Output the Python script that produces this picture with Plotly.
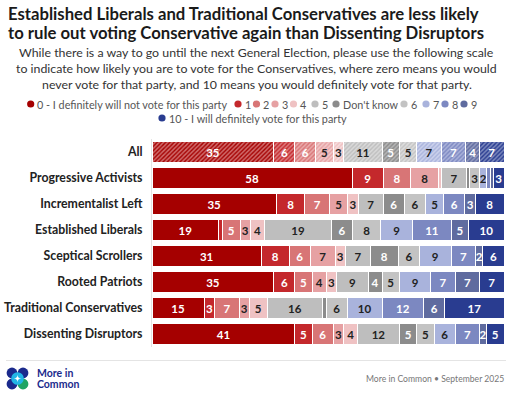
import plotly.graph_objects as go

W, H = 512, 398

segments = ["All", "Progressive Activists", "Incrementalist Left", "Established Liberals",
            "Sceptical Scrollers", "Rooted Patriots", "Traditional Conservatives",
            "Dissenting Disruptors"]

categories = ["0 - I definitely will not vote for this party", "1", "2", "3", "4", "5",
              "Don't know", "6", "7", "8", "9", "10 - I will definitely vote for this party"]

values = {
    "0 - I definitely will not vote for this party": [35, 58, 35, 19, 31, 35, 15, 41],
    "1": [6, 9, 8, 1, 8, 6, 3, 5],
    "2": [6, 8, 7, 5, 6, 5, 7, 6],
    "3": [5, 8, 5, 3, 7, 4, 3, 3],
    "4": [3, 1, 3, 4, 3, 3, 5, 4],
    "5": [11, 7, 7, 19, 7, 9, 16, 12],
    "Don't know": [5, 1, 6, 6, 8, 4, 1, 5],
    "6": [5, 3, 6, 8, 6, 5, 6, 5],
    "7": [7, 2, 5, 9, 9, 9, 10, 6],
    "8": [7, 1, 6, 11, 7, 7, 12, 7],
    "9": [4, 1, 3, 5, 2, 7, 6, 2],
    "10 - I will definitely vote for this party": [7, 3, 8, 10, 6, 7, 17, 5],
}

colors = ["#a50000", "#c4282c", "#d87576", "#e6a1a3", "#efc2c3", "#bebebe",
          "#8c8c8c", "#c3c3c3", "#a9b3dc", "#7c88c1", "#5f6b9f", "#293c90"]
light = ["#cf6a6a", "#dc7a7c", "#eaaaab", "#f1c7c8", "#f6dcdd", "#d9d9d9",
         "#b5b5b5", "#dcdcdc", "#cbd1ec", "#aab2da", "#9199c0", "#7a87bd"]
text_colors = ["white", "white", "white", "#222", "#222", "#222",
               "white", "#222", "#222", "white", "white", "white"]

FONT = "Lato"


def px(x):
    return x / W


def py(y):
    return 1 - y / H


fig = go.Figure()
for i, cat in enumerate(categories):
    vals = values[cat]
    txt = [str(v) if v >= 2 else "" for v in vals]
    shapes_p = ["/" if s == "All" else "" for s in segments]
    fig.add_trace(go.Bar(
        y=segments, x=vals, orientation="h", name=cat,
        marker=dict(color=colors[i], line=dict(color="white", width=1),
                    pattern=dict(shape=shapes_p, fgcolor=colors[i], bgcolor=light[i],
                                 size=3, solidity=0.45, fillmode="replace")),
        text=txt, textposition="inside", insidetextanchor="middle",
        texttemplate="%{text}",
        textfont=dict(family=FONT, size=11.5, color=text_colors[i], weight="bold"),
        showlegend=False, hoverinfo="skip",
    ))

fig.update_layout(
    width=W, height=H, barmode="stack", barnorm="percent", bargap=0.21,
    margin=dict(l=0, r=0, t=0, b=0),
    paper_bgcolor="white", plot_bgcolor="white",
    font=dict(family=FONT, color="#222"),
    uniformtext=dict(minsize=11.5, mode="show"),
    xaxis=dict(domain=[px(152), px(504)], range=[0, 100], visible=False, fixedrange=True),
    yaxis=dict(domain=[py(347), py(139)], autorange="reversed",
               showline=True, linecolor="#e4e4e4", linewidth=1,
               ticks="", ticklabelstandoff=6,
               tickfont=dict(family=FONT, size=12.3, color="#222", weight="bold")),
)

ann = []
shapes = []
# Title
ann.append(dict(text="<b>Established Liberals and Traditional Conservatives are less likely</b>",
                x=px(7), y=py(14), xanchor="left", yanchor="middle", borderpad=0,
                font=dict(family=FONT, size=16.7, color="#1a1a1a")))
ann.append(dict(text="<b>to rule out voting Conservative again than Dissenting Disruptors</b>",
                x=px(7), y=py(33), xanchor="left", yanchor="middle", borderpad=0,
                font=dict(family=FONT, size=16.7, color="#1a1a1a")))
sub = ["While there is a way to go until the next General Election, please use the following scale",
       "to indicate how likely you are to vote for the Conservatives, where zero means you would",
       "never vote for that party, and 10 means you would definitely vote for that party."]
for k, line in enumerate(sub):
    ann.append(dict(text=line, x=px(256.5), y=py(52 + 16.5 * k), xanchor="center", yanchor="middle",
                    font=dict(family=FONT, size=12.35, color="#333")))

# Legend
leg_labels = ["0 - I definitely will not vote for this party", "1", "2", "3", "4", "5",
              "Don't know", "6", "7", "8", "9", "10 - I will definitely vote for this party"]
leg_pos = [(30.7, 104), (238, 104), (256.5, 104), (275, 104), (293.5, 104), (315, 104),
           (336, 104), (404, 104), (426, 104), (445, 104), (464, 104), (162, 118)]
for i, (lab, (mx, my)) in enumerate(zip(leg_labels, leg_pos)):
    shapes.append(dict(type="circle", xref="paper", yref="paper", xsizemode="pixel",
                       ysizemode="pixel", xanchor=px(mx), yanchor=py(my),
                       x0=-3.6, x1=3.6, y0=-3.6, y1=3.6,
                       fillcolor=colors[i], line=dict(width=0)))
    ann.append(dict(text=lab, x=px(mx + 4.5), y=py(my), xanchor="left", yanchor="middle",
                    font=dict(family=FONT, size=10.8, color="#555")))

# Footer
shapes.append(dict(type="line", xref="paper", yref="paper", x0=px(6), x1=px(506),
                   y0=py(360.5), y1=py(360.5), line=dict(color="#e4e4e4", width=1)))
ann.append(dict(text="More in Common • September 2025", x=px(506), y=py(379),
                xanchor="right", yanchor="middle", font=dict(family=FONT, size=8.6, color="#777")))
ann.append(dict(text="<b>More in</b>", x=px(35), y=py(373), xanchor="left", yanchor="middle",
                font=dict(family=FONT, size=10.5, color="#1b2a8c")))
ann.append(dict(text="<b>Common</b>", x=px(35), y=py(384), xanchor="left", yanchor="middle",
                font=dict(family=FONT, size=10.5, color="#1b2a8c")))

# Logo
logo = [((12, 373), "#1b2a8c"), ((23, 373), "#1b2a8c"), ((12, 384), "#1b2a8c"), ((23, 384), "#1fa464")]
for (cx, cy), col in logo:
    shapes.append(dict(type="circle", xref="paper", yref="paper", xsizemode="pixel",
                       ysizemode="pixel", xanchor=px(cx), yanchor=py(cy),
                       x0=-5.4, x1=5.4, y0=-5.4, y1=5.4, fillcolor=col, line=dict(width=0)))
shapes.append(dict(type="circle", xref="paper", yref="paper", xsizemode="pixel",
                   ysizemode="pixel", xanchor=px(17.5), yanchor=py(378.5),
                   x0=-6.3, x1=6.3, y0=-6.3, y1=6.3, fillcolor="#22b5e6", line=dict(width=0)))
shapes.append(dict(type="path", xref="paper", yref="paper", xsizemode="pixel",
                   ysizemode="pixel", xanchor=px(17.5), yanchor=py(378.5),
                   path="M 0 4 Q 0 0 4 0 Q 0 0 0 -4 Q 0 0 -4 0 Q 0 0 0 4 Z",
                   fillcolor="white", line=dict(width=0)))

for a in ann:
    a.update(xref="paper", yref="paper", showarrow=False)
fig.update_layout(annotations=ann, shapes=shapes)

fig.write_html("out.html", config={"displayModeBar": False},
               post_script="document.body.style.margin='0px';")
